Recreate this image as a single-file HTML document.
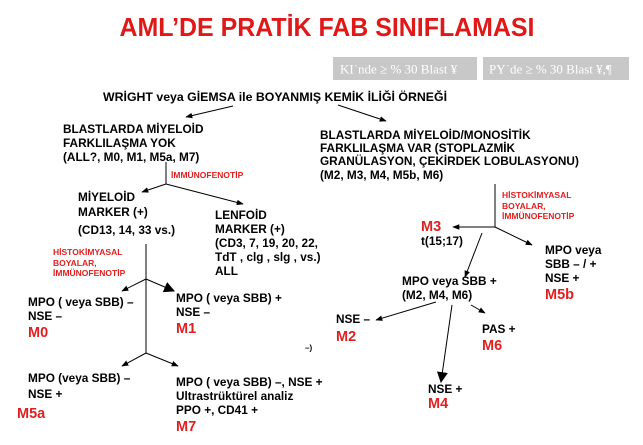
<!DOCTYPE html>
<html><head><meta charset="utf-8"><style>
html,body{margin:0;padding:0;background:#fff;}
svg{display:block;}
text{font-family:"Liberation Sans",Arial,sans-serif;font-weight:bold;font-size:11.8px;fill:#000;dominant-baseline:central;}
.s{font-size:8.5px;fill:#e02020;}
.m{font-size:14.5px;fill:#e02020;}
line{stroke:#000;stroke-width:1;}
</style></head><body>
<svg width="643" height="445" viewBox="0 0 643 445" xmlns="http://www.w3.org/2000/svg">
<defs>
<marker id="a" viewBox="0 0 10 10" refX="9" refY="5" markerWidth="7" markerHeight="7" orient="auto"><path d="M0,1 L10,5 L0,9 z" fill="#000"/></marker>
<marker id="b" viewBox="0 0 10 10" refX="9" refY="5" markerWidth="11" markerHeight="11" orient="auto"><path d="M0,0 L10,5 L0,10 z" fill="#000"/></marker>
</defs>
<text x="327" y="27" text-anchor="middle" textLength="415" lengthAdjust="spacingAndGlyphs" style="font-size:26px;fill:#e01818">AML’DE PRATİK FAB SINIFLAMASI</text>
<rect x="333" y="57" width="144" height="23" fill="#c8c8c8"/>
<rect x="483" y="57" width="146" height="23" fill="#c8c8c8"/>
<text x="340" y="69" style="font-family:'Liberation Serif',serif;font-weight:normal;font-size:13px;fill:#fff">KI˙nde ≥ % 30 Blast ¥</text>
<text x="489" y="69" style="font-family:'Liberation Serif',serif;font-weight:normal;font-size:13px;fill:#fff">PY˙de ≥ % 30 Blast ¥,¶</text>
<text x="103" y="97" textLength="344" lengthAdjust="spacingAndGlyphs">WRİGHT  veya  GİEMSA  ile  BOYANMIŞ KEMİK İLİĞİ ÖRNEĞİ</text>
<line x1="233" y1="106" x2="186" y2="117" marker-end="url(#a)"/>
<line x1="338" y1="105" x2="386" y2="121" marker-end="url(#a)"/>
<text x="63" y="129">BLASTLARDA MİYELOİD</text>
<text x="63" y="143">FARKLILAŞMA YOK</text>
<text x="63" y="157">(ALL?, M0, M1, M5a, M7)</text>
<line x1="166" y1="162" x2="166" y2="184"/>
<text x="171" y="175" class="s">İMMÜNOFENOTİP</text>
<line x1="166" y1="184" x2="142" y2="192" marker-end="url(#a)"/>
<line x1="166" y1="184" x2="243" y2="204" marker-end="url(#a)"/>
<text x="78" y="197">MİYELOİD</text>
<text x="78" y="212">MARKER (+)</text>
<text x="78" y="230">(CD13, 14, 33    vs.)</text>
<text x="215" y="215">LENFOİD</text>
<text x="215" y="229">MARKER (+)</text>
<text x="215" y="243">(CD3, 7, 19, 20, 22,</text>
<text x="215" y="257">TdT , clg , slg , vs.)</text>
<text x="215" y="271">ALL</text>
<line x1="146" y1="244" x2="146" y2="353"/>
<text x="53" y="252" class="s">HİSTOKİMYASAL</text>
<text x="53" y="263" class="s">BOYALAR,</text>
<text x="53" y="273" class="s">İMMÜNOFENOTİP</text>
<line x1="146" y1="279" x2="122" y2="291" marker-end="url(#a)"/>
<line x1="146" y1="279" x2="174" y2="291" marker-end="url(#b)"/>
<text x="28" y="302">MPO (  veya  SBB) –</text>
<text x="28" y="316">NSE –</text>
<text x="28" y="333" class="m">M0</text>
<text x="176" y="298">MPO (  veya  SBB) +</text>
<text x="176" y="312">NSE –</text>
<text x="176" y="329" class="m">M1</text>
<text x="305" y="348" style="font-size:8px">–)</text>
<line x1="146" y1="353" x2="122" y2="366" marker-end="url(#a)"/>
<line x1="146" y1="353" x2="178" y2="366" marker-end="url(#a)"/>
<text x="28" y="378">MPO (veya SBB) –</text>
<text x="28" y="394">NSE +</text>
<text x="17" y="414" class="m">M5a</text>
<text x="176" y="382">MPO (  veya  SBB) –, NSE +</text>
<text x="176" y="396">Ultrastrüktürel analiz</text>
<text x="176" y="410">PPO +, CD41 +</text>
<text x="176" y="427" class="m">M7</text>
<text x="320" y="135">BLASTLARDA MİYELOİD/MONOSİTİK</text>
<text x="320" y="148">FARKLILAŞMA VAR (STOPLAZMİK</text>
<text x="320" y="161">GRANÜLASYON, ÇEKİRDEK LOBULASYONU)</text>
<text x="320" y="175">(M2, M3, M4, M5b, M6)</text>
<line x1="495" y1="184" x2="495" y2="227"/>
<text x="502" y="195" class="s">HİSTOKİMYASAL</text>
<text x="502" y="206" class="s">BOYALAR,</text>
<text x="502" y="216" class="s">İMMÜNOFENOTİP</text>
<line x1="495" y1="227" x2="453" y2="227" marker-end="url(#a)"/>
<text x="421" y="227" class="m">M3</text>
<text x="421" y="241">t(15;17)</text>
<line x1="495" y1="227" x2="532" y2="245" marker-end="url(#a)"/>
<text x="545" y="250">MPO  veya</text>
<text x="545" y="264">SBB – / +</text>
<text x="545" y="278">NSE +</text>
<text x="545" y="295" class="m">M5b</text>
<line x1="482" y1="233" x2="465" y2="277" marker-end="url(#a)"/>
<text x="402" y="281">MPO  veya  SBB +</text>
<text x="402" y="295">(M2, M4, M6)</text>
<line x1="436" y1="302" x2="376" y2="320" marker-end="url(#a)"/>
<text x="336" y="319">NSE –</text>
<text x="336" y="337" class="m">M2</text>
<line x1="452" y1="305" x2="441" y2="382" marker-end="url(#b)"/>
<text x="428" y="389">NSE +</text>
<text x="428" y="404" class="m">M4</text>
<line x1="471" y1="305" x2="485" y2="313" marker-end="url(#a)"/>
<text x="482" y="329">PAS +</text>
<text x="482" y="346" class="m">M6</text>
</svg>
</body></html>
